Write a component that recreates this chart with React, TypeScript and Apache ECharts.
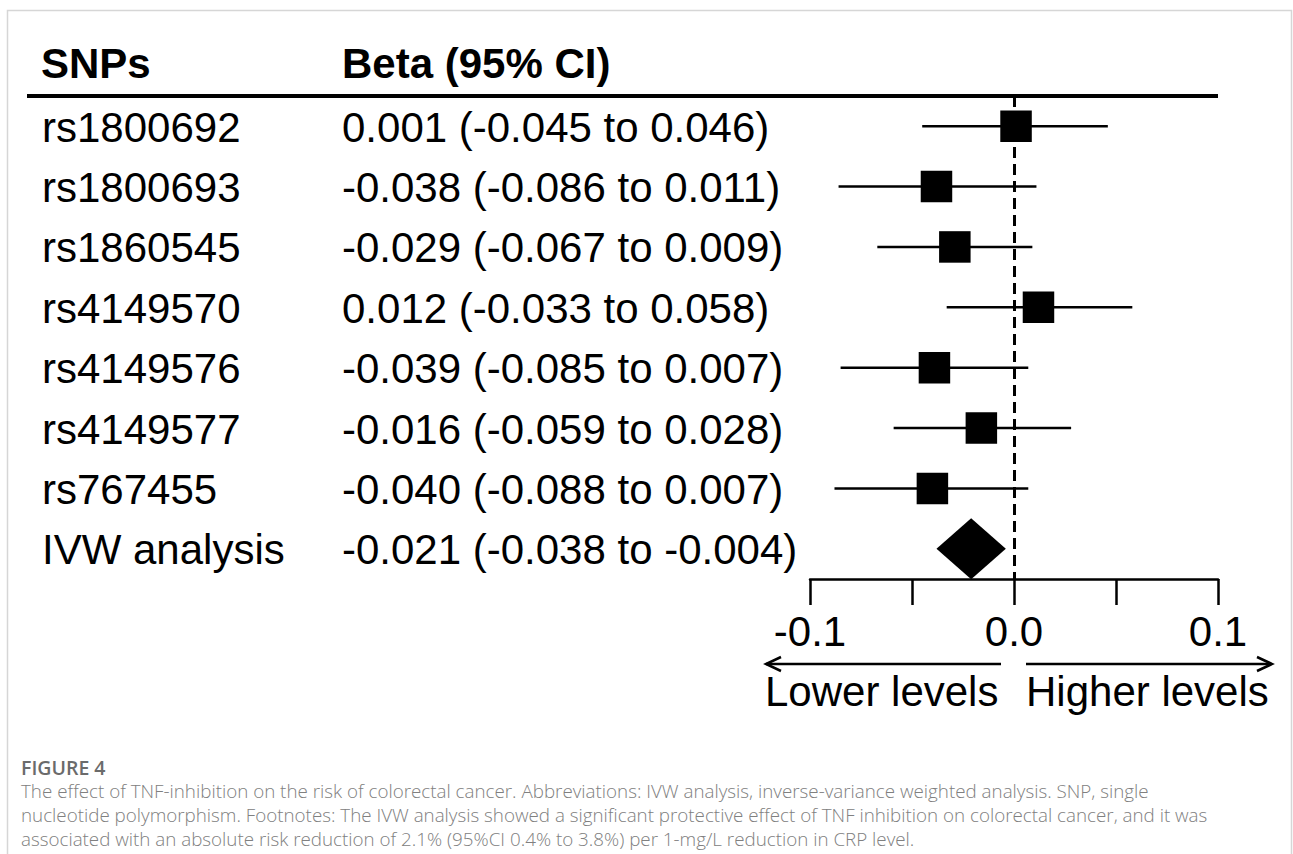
import React, { useEffect, useRef } from "react";
import * as echarts from "echarts";

const snps = [
  "rs1800692",
  "rs1800693",
  "rs1860545",
  "rs4149570",
  "rs4149576",
  "rs4149577",
  "rs767455",
  "IVW analysis",
];
const betaText = [
  "0.001 (-0.045 to 0.046)",
  "-0.038 (-0.086 to 0.011)",
  "-0.029 (-0.067 to 0.009)",
  "0.012 (-0.033 to 0.058)",
  "-0.039 (-0.085 to 0.007)",
  "-0.016 (-0.059 to 0.028)",
  "-0.040 (-0.088 to 0.007)",
  "-0.021 (-0.038 to -0.004)",
];
const estimates = [0.001, -0.038, -0.029, 0.012, -0.039, -0.016, -0.04, -0.021];
const lower = [-0.045, -0.086, -0.067, -0.033, -0.085, -0.059, -0.088, -0.038];
const upper = [0.046, 0.011, 0.009, 0.058, 0.007, 0.028, 0.007, -0.004];
const xTicks = { min: -0.1, max: 0.1, interval: 0.05 };

const captionTitle = "FIGURE 4";
const captionLines = [
  "The effect of TNF-inhibition on the risk of colorectal cancer. Abbreviations: IVW analysis, inverse-variance weighted analysis. SNP, single",
  "nucleotide polymorphism. Footnotes: The IVW analysis showed a significant protective effect of TNF inhibition on colorectal cancer, and it was",
  "associated with an absolute risk reduction of 2.1% (95%CI 0.4% to 3.8%) per 1-mg/L reduction in CRP level.",
];

const FONT = "'Liberation Sans', Arial, Helvetica, sans-serif";
const CAP_FONT = "'Open Sans', 'Noto Sans', sans-serif";
const FS = 42;

export default function App() {
  const ref = useRef<HTMLDivElement>(null);
  useEffect(() => {
    if (!ref.current) return;
    const chart = echarts.init(ref.current, null, { renderer: "svg" });
    const data = estimates.map((e, i) => [i, e, lower[i], upper[i]]);
    const summaryIndex = snps.length - 1;

    const option: any = {
      animation: false,
      backgroundColor: "#ffffff",
      textStyle: { fontFamily: FONT },
      grid: { left: 810, right: 75, top: 96, bottom: 275, containLabel: false },
      xAxis: {
        type: "value",
        min: xTicks.min,
        max: xTicks.max,
        interval: xTicks.interval,
        splitLine: { show: false },
        axisLine: { show: true, lineStyle: { color: "#000", width: 2.5 } },
        axisTick: { show: true, inside: false, length: 26, lineStyle: { color: "#000", width: 2.5 } },
        axisLabel: {
          show: true,
          showMinLabel: true,
          showMaxLabel: true,
          margin: 31,
          fontSize: FS,
          color: "#000",
          fontFamily: FONT,
          formatter: (v: number) => {
            const k = Math.round(v / 0.1);
            return Math.abs(k * 0.1 - v) < 1e-6 ? (k * 0.1).toFixed(1).replace("-0.0", "0.0") : "";
          },
        },
      },
      yAxis: {
        type: "category",
        data: snps,
        inverse: true,
        axisLine: { show: false },
        axisTick: { show: false },
        splitLine: { show: false },
        axisLabel: {
          show: true,
          interval: 0,
          align: "left",
          margin: 768,
          color: "#000",
          fontSize: FS,
          fontFamily: FONT,
          formatter: (v: string, i: number) => `{a|${v}}{b|${betaText[i]}}`,
          rich: {
            a: { width: 300, fontSize: FS, fontFamily: FONT, color: "#000", padding: [2, 0, 0, 0] },
            b: { fontSize: FS, fontFamily: FONT, color: "#000", padding: [2, 0, 0, 0] },
          },
        },
      },
      series: [
        {
          type: "custom",
          data,
          encode: { x: [1, 2, 3], y: 0 },
          renderItem: (params: any, api: any) => {
            const idx = api.value(0);
            const est = api.value(1);
            const lo = api.value(2);
            const hi = api.value(3);
            const c = api.coord([est, idx]);
            const l = api.coord([lo, idx]);
            const h = api.coord([hi, idx]);
            if (idx === summaryIndex) {
              const half = 30.5;
              return {
                type: "polygon",
                shape: {
                  points: [
                    [l[0], c[1]],
                    [c[0], c[1] - half],
                    [h[0], c[1]],
                    [c[0], c[1] + half],
                  ],
                },
                style: { fill: "#000" },
              };
            }
            const s = 31.5;
            return {
              type: "group",
              children: [
                {
                  type: "line",
                  shape: { x1: l[0], y1: l[1], x2: h[0], y2: h[1] },
                  style: { stroke: "#000", lineWidth: 2.5 },
                },
                {
                  type: "rect",
                  shape: { x: c[0] - s / 2, y: c[1] - s / 2, width: s, height: s },
                  style: { fill: "#000" },
                },
              ],
            };
          },
          markLine: {
            silent: true,
            symbol: "none",
            label: { show: false },
            lineStyle: { color: "#000", width: 3, type: [11, 6] },
            data: [{ xAxis: 0 }],
            z: 1,
          },
          z: 3,
        },
      ],
      graphic: [
        {
          type: "rect",
          shape: { x: 7.5, y: 10.5, width: 1284, height: 900 },
          style: { fill: "none", stroke: "#d6d6d6", lineWidth: 1.5 },
          silent: true,
        },
        {
          type: "text",
          x: 41,
          y: 63,
          style: { text: "SNPs", fontSize: FS, fontWeight: "bold", fontFamily: FONT, fill: "#000", textVerticalAlign: "middle" },
        },
        {
          type: "text",
          x: 342,
          y: 63,
          style: { text: "Beta (95% CI)", fontSize: FS, fontWeight: "bold", fontFamily: FONT, fill: "#000", textVerticalAlign: "middle" },
        },
        {
          type: "line",
          shape: { x1: 27, y1: 96, x2: 1218, y2: 96 },
          style: { stroke: "#000", lineWidth: 4 },
        },
        {
          type: "line",
          shape: { x1: 766, y1: 664, x2: 1001, y2: 664 },
          style: { stroke: "#000", lineWidth: 2.5 },
        },
        {
          type: "polyline",
          shape: { points: [[781, 657], [766, 664], [781, 671]] },
          style: { stroke: "#000", lineWidth: 2.5, fill: "none" },
        },
        {
          type: "line",
          shape: { x1: 1026, y1: 664, x2: 1272, y2: 664 },
          style: { stroke: "#000", lineWidth: 2.5 },
        },
        {
          type: "polyline",
          shape: { points: [[1257, 657], [1272, 664], [1257, 671]] },
          style: { stroke: "#000", lineWidth: 2.5, fill: "none" },
        },
        {
          type: "text",
          x: 765,
          y: 691,
          style: { text: "Lower levels", fontSize: FS, fontFamily: FONT, fill: "#000", textVerticalAlign: "middle" },
        },
        {
          type: "text",
          x: 1026,
          y: 691,
          style: { text: "Higher levels", fontSize: FS, fontFamily: FONT, fill: "#000", textVerticalAlign: "middle" },
        },
        {
          type: "text",
          x: 21,
          y: 767,
          style: { text: captionTitle, fontSize: 19.5, fontWeight: 600, fontFamily: CAP_FONT, fill: "#6b6b6b", textVerticalAlign: "middle" },
        },
        ...captionLines.map((t, i) => ({
          type: "text",
          x: 21,
          y: 791 + i * 24,
          style: { text: t, fontSize: 18.8, fontWeight: 300, fontFamily: CAP_FONT, fill: "#808080", textVerticalAlign: "middle" },
        })),
      ],
    };
    chart.setOption(option);
    return () => chart.dispose();
  }, []);
  return (
    <div
      ref={ref}
      style={{ position: "fixed", left: 0, top: 0, width: 1293, height: 854, background: "#fff" }}
    />
  );
}
